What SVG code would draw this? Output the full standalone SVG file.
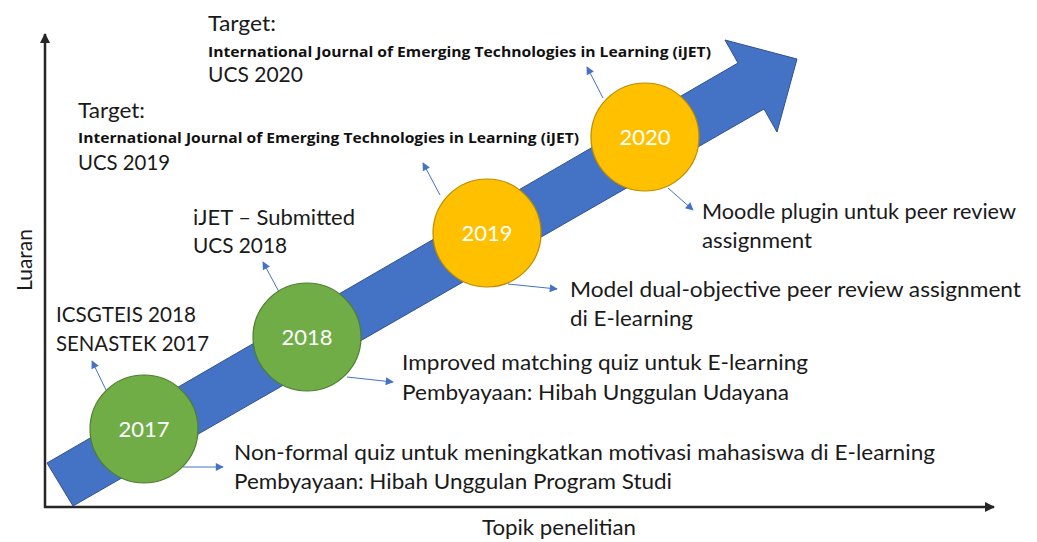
<svg xmlns="http://www.w3.org/2000/svg" width="1037" height="542" viewBox="0 0 1037 542">
  <style>
    .t { font-family: Lato, "Open Sans", "Liberation Sans", sans-serif; font-size: 21px; fill: #1a1a1a; }
    .b { font-family: "Open Sans", Lato, "Liberation Sans", sans-serif; font-size: 14.5px; font-weight: bold; fill: #111111; }
    .yr { font-family: Lato, "Open Sans", "Liberation Sans", sans-serif; font-size: 22px; fill: #ffffff; text-anchor: middle; }
    .green { fill: #70AD47; stroke: #507E32; stroke-width: 1.2; }
    .gold { fill: #FFC000; stroke: #BC8C00; stroke-width: 1.2; }
    .link { stroke: #4472C4; stroke-width: 1; fill: none; marker-end: url(#tipBlue); }
    .axis { stroke: #262626; stroke-width: 2.5; fill: none; marker-end: url(#tipDark); }
  </style>
  <defs>
    <marker id="tipBlue" viewBox="0 0 10 10" refX="9" refY="5" markerWidth="10" markerHeight="8" markerUnits="userSpaceOnUse" orient="auto">
      <path d="M0,0 L10,5 L0,10 Z" fill="#4472C4"/>
    </marker>
    <marker id="tipDark" viewBox="0 0 10 10" refX="9" refY="5" markerWidth="4" markerHeight="4" orient="auto">
      <path d="M0,0 L10,5 L0,10 Z" fill="#262626"/>
    </marker>
  </defs>
  <rect width="1037" height="542" fill="#ffffff"/>

  <!-- axes -->
  <g id="axes">
    <line class="axis" x1="45" y1="508" x2="45" y2="34"/>
    <line class="axis" x1="44" y1="507" x2="994" y2="507"/>
    <text class="t" transform="translate(32,260) rotate(-90)" text-anchor="middle">Luaran</text>
    <text class="t" x="482" y="535" textLength="154" lengthAdjust="spacingAndGlyphs">Topik penelitian</text>
  </g>

  <!-- trend arrow -->
  <g id="trend">
    <polygon points="47,463 738,63 725,40 797,59 777,132 764,109 73,506" fill="#4472C4" stroke="#2F528F" stroke-width="1"/>
  </g>

  <!-- connectors -->
  <g id="connectors">
    <line class="link" x1="106" y1="390" x2="92" y2="361"/>
    <line class="link" x1="183" y1="467" x2="223" y2="467"/>
    <line class="link" x1="279" y1="292" x2="263" y2="262"/>
    <line class="link" x1="347" y1="377" x2="393" y2="382"/>
    <line class="link" x1="440" y1="195" x2="423" y2="163"/>
    <line class="link" x1="508" y1="284" x2="557" y2="289"/>
    <line class="link" x1="603" y1="98" x2="587" y2="67"/>
    <line class="link" x1="668" y1="188" x2="693" y2="210"/>
  </g>

  <!-- milestones -->
  <g id="y2017">
    <circle class="green" cx="144" cy="429" r="54"/>
    <text class="yr" x="144" y="437">2017</text>
  </g>
  <g id="y2018">
    <circle class="green" cx="307" cy="337" r="54"/>
    <text class="yr" x="307" y="345">2018</text>
  </g>
  <g id="y2019">
    <circle class="gold" cx="487" cy="233" r="54"/>
    <text class="yr" x="487" y="241">2019</text>
  </g>
  <g id="y2020">
    <circle class="gold" cx="645" cy="137" r="54"/>
    <text class="yr" x="645" y="145">2020</text>
  </g>

  <!-- outputs (above the arrow) -->
  <g id="out2017">
    <text class="t" x="56" y="322" textLength="140" lengthAdjust="spacingAndGlyphs">ICSGTEIS 2018</text>
    <text class="t" x="56" y="351" textLength="153" lengthAdjust="spacingAndGlyphs">SENASTEK 2017</text>
  </g>
  <g id="out2018">
    <text class="t" x="193" y="225" textLength="162" lengthAdjust="spacingAndGlyphs">iJET – Submitted</text>
    <text class="t" x="193" y="253" textLength="94" lengthAdjust="spacingAndGlyphs">UCS 2018</text>
  </g>
  <g id="out2019">
    <text class="t" x="78" y="118" textLength="67" lengthAdjust="spacingAndGlyphs">Target:</text>
    <text class="b" x="78" y="143" textLength="501" lengthAdjust="spacingAndGlyphs">International Journal of Emerging Technologies in Learning (iJET)</text>
    <text class="t" x="78" y="170" textLength="92" lengthAdjust="spacingAndGlyphs">UCS 2019</text>
  </g>
  <g id="out2020">
    <text class="t" x="208" y="31" textLength="68" lengthAdjust="spacingAndGlyphs">Target:</text>
    <text class="b" x="208" y="57" textLength="503" lengthAdjust="spacingAndGlyphs">International Journal of Emerging Technologies in Learning (iJET)</text>
    <text class="t" x="208" y="82" textLength="95" lengthAdjust="spacingAndGlyphs">UCS 2020</text>
  </g>

  <!-- research topics (below the arrow) -->
  <g id="topic2017">
    <text class="t" x="234" y="460" textLength="701" lengthAdjust="spacingAndGlyphs">Non-formal quiz untuk meningkatkan motivasi mahasiswa di E-learning</text>
    <text class="t" x="234" y="489" textLength="438" lengthAdjust="spacingAndGlyphs">Pembyayaan: Hibah Unggulan Program Studi</text>
  </g>
  <g id="topic2018">
    <text class="t" x="402" y="370" textLength="406" lengthAdjust="spacingAndGlyphs">Improved matching quiz untuk E-learning</text>
    <text class="t" x="402" y="400" textLength="387" lengthAdjust="spacingAndGlyphs">Pembyayaan: Hibah Unggulan Udayana</text>
  </g>
  <g id="topic2019">
    <text class="t" x="570" y="297" textLength="451" lengthAdjust="spacingAndGlyphs">Model dual-objective peer review assignment</text>
    <text class="t" x="570" y="326" textLength="123" lengthAdjust="spacingAndGlyphs">di E-learning</text>
  </g>
  <g id="topic2020">
    <text class="t" x="702" y="219" textLength="314" lengthAdjust="spacingAndGlyphs">Moodle plugin untuk peer review</text>
    <text class="t" x="702" y="248" textLength="110" lengthAdjust="spacingAndGlyphs">assignment</text>
  </g>
</svg>
